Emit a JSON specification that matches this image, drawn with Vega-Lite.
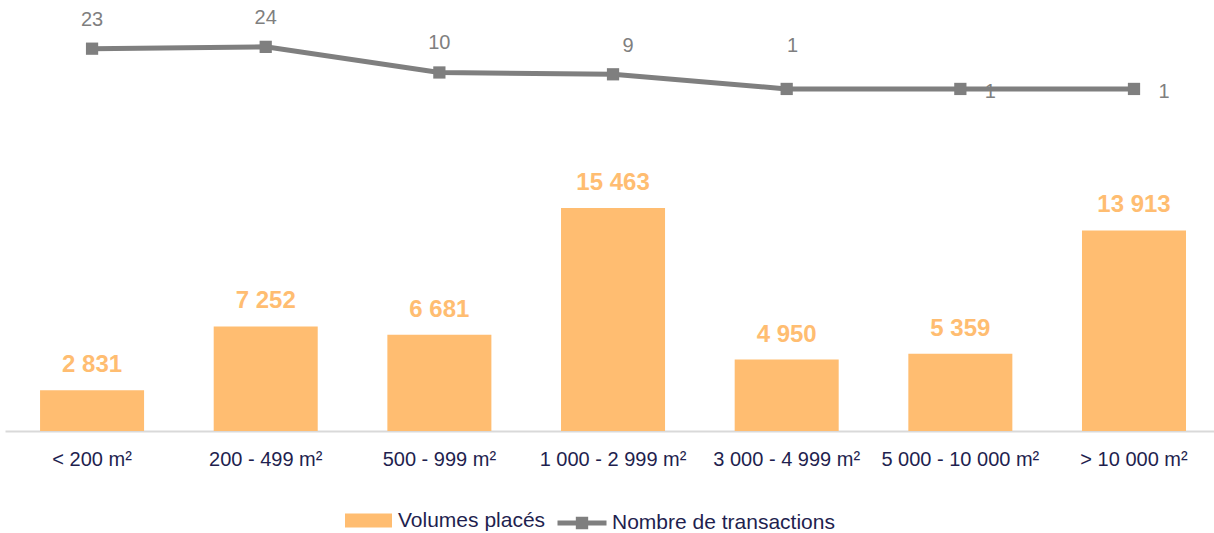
{
  "$schema": "https://vega.github.io/schema/vega-lite/v6.json",
  "autosize": "none",
  "padding": {"left": 5, "top": 0, "right": 0, "bottom": 102},
  "width": 1209,
  "height": 431,
  "background": "white",
  "config": {
    "view": {"stroke": null},
    "font": "Liberation Sans",
    "locale": {"number": {"decimal": ",", "thousands": " ", "grouping": [3], "currency": ["", " €"]}}
  },
  "data": {
    "values": [
      {"cat": "< 200 m²", "vol": 2831, "nb": 23},
      {"cat": "200 - 499 m²", "vol": 7252, "nb": 24},
      {"cat": "500 - 999 m²", "vol": 6681, "nb": 10},
      {"cat": "1 000 - 2 999 m²", "vol": 15463, "nb": 9},
      {"cat": "3 000 - 4 999 m²", "vol": 4950, "nb": 1},
      {"cat": "5 000 - 10 000 m²", "vol": 5359, "nb": 1},
      {"cat": "> 10 000 m²", "vol": 13913, "nb": 1}
    ]
  },
  "encoding": {
    "x": {
      "field": "cat",
      "type": "nominal",
      "sort": null,
      "scale": {"paddingInner": 0.401, "paddingOuter": 0.1815, "align": 0.556},
      "axis": {
        "title": null,
        "labelAngle": 0,
        "labelFont": "Liberation Sans",
        "labelFontSize": 20,
        "labelColor": "#1F1F4F",
        "labelPadding": 18,
        "ticks": false,
        "domainColor": "#D9D9D9",
        "domainWidth": 2,
        "grid": false
      }
    }
  },
  "layer": [
    {
      "encoding": {
        "y": {"field": "vol", "type": "quantitative", "scale": {"domain": [0, 29890], "nice": false}, "axis": null}
      },
      "layer": [
        {
          "mark": {"type": "bar"},
          "encoding": {
            "fill": {
              "datum": "Volumes placés",
              "scale": {"range": ["#FFBD71"]},
              "legend": {
                "orient": "none",
                "legendX": 340,
                "legendY": 497,
                "title": null,
                "symbolType": "M-1,-0.3H1V0.3H-1Z",
                "symbolSize": 2209,
                "symbolStrokeWidth": 0,
                "labelFont": "Liberation Sans",
                "labelFontSize": 21,
                "labelColor": "#1F1F4F",
                "labelOffset": 6,
                "labelLimit": 400
              }
            }
          }
        },
        {
          "mark": {"type": "text", "baseline": "middle", "dy": -25, "fontSize": 24, "fontWeight": "bold", "color": "#FFBD71", "font": "Liberation Sans"},
          "encoding": {"text": {"field": "vol", "type": "quantitative", "format": ",d"}}
        }
      ]
    },
    {
      "encoding": {
        "y": {"field": "nb", "type": "quantitative", "scale": {"domain": [-185.9, 49.6], "nice": false, "zero": false}, "axis": null}
      },
      "layer": [
        {
          "mark": {"type": "line", "strokeWidth": 5},
          "encoding": {
            "stroke": {
              "datum": "Nombre de transactions",
              "scale": {"range": ["#7F7F7F"]},
              "legend": {
                "orient": "none",
                "legendX": 550,
                "legendY": 496,
                "title": null,
                "symbolType": "M-1,0H1M-0.15,-0.15H0.15V0.15H-0.15Z",
                "symbolSize": 2401,
                "symbolStrokeWidth": 5,
                "symbolFillColor": "#7F7F7F",
                "labelFont": "Liberation Sans",
                "labelFontSize": 21,
                "labelColor": "#1F1F4F",
                "labelOffset": 3,
                "labelLimit": 400
              }
            }
          }
        },
        {
          "mark": {"type": "point", "shape": "square", "filled": true, "size": 150, "color": "#7F7F7F", "opacity": 1}
        },
        {
          "transform": [{"filter": "datum.nb > 9"}],
          "mark": {"type": "text", "baseline": "middle", "dy": -29, "fontSize": 20, "color": "#7F7F7F"},
          "encoding": {"text": {"field": "nb", "type": "quantitative"}}
        },
        {
          "transform": [{"filter": "datum.nb === 9"}],
          "mark": {"type": "text", "baseline": "middle", "dy": -28, "dx": 15, "fontSize": 20, "color": "#7F7F7F"},
          "encoding": {"text": {"field": "nb", "type": "quantitative"}}
        },
        {
          "transform": [{"filter": "datum.cat === '3 000 - 4 999 m²'"}],
          "mark": {"type": "text", "baseline": "middle", "dy": -43, "dx": 6, "fontSize": 20, "color": "#7F7F7F"},
          "encoding": {"text": {"field": "nb", "type": "quantitative"}}
        },
        {
          "transform": [{"filter": "datum.cat === '5 000 - 10 000 m²' || datum.cat === '> 10 000 m²'"}],
          "mark": {"type": "text", "baseline": "middle", "dy": 3, "dx": 30, "fontSize": 20, "color": "#7F7F7F"},
          "encoding": {"text": {"field": "nb", "type": "quantitative"}}
        }
      ]
    }
  ],
  "resolve": {"scale": {"y": "independent"}}
}
